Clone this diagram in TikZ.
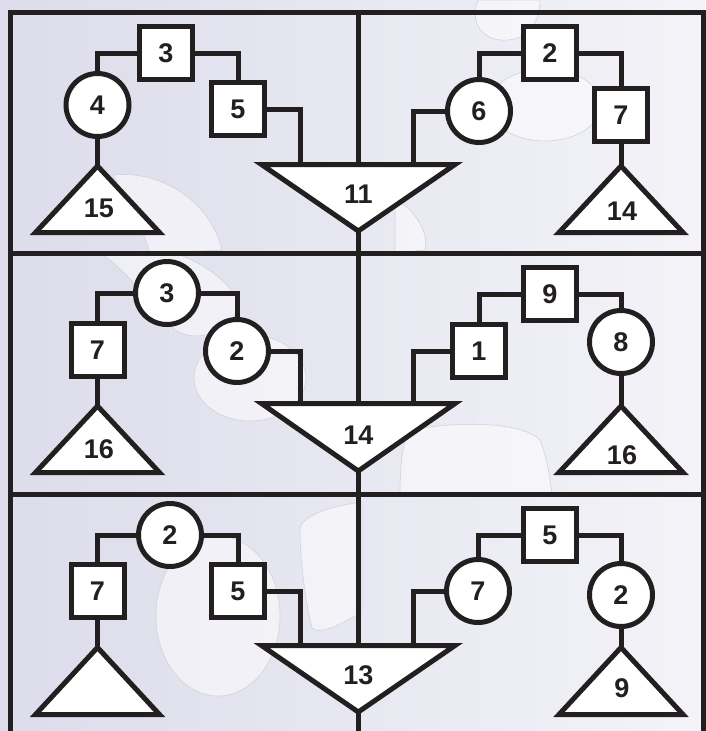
\documentclass[tikz,border=0pt]{standalone}
\usepackage{fontspec}
\setmainfont{Liberation Sans}
\definecolor{ink}{RGB}{35,31,32}
\definecolor{bgL}{RGB}{220,220,235}
\definecolor{bgR}{RGB}{243,243,248}
\definecolor{blobline}{RGB}{210,210,218}
\begin{document}
\begin{tikzpicture}[x=1pt,y=-1pt,
  lbl/.style={font=\bfseries\fontsize{27}{27}\selectfont, text=ink, inner sep=0pt},
  sq/.style={draw=ink, fill=white, line width=5pt, minimum size=53pt, inner sep=0pt, outer sep=0pt, lbl},
  circ/.style={circle, draw=ink, fill=white, line width=5pt, minimum size=63pt, inner sep=0pt, outer sep=0pt, lbl},
  tri/.style={draw=ink, fill=white, line width=5pt, line join=miter},
  wire/.style={draw=ink, line width=5pt},
  blob/.style={fill=white, fill opacity=0.5, draw=blobline, draw opacity=1, line width=0.6pt}]
\useasboundingbox (0,0) rectangle (705,731);
\begin{scope}
\clip (0,0) rectangle (705,731);
% background
\shade[left color=bgL, right color=bgR] (0,0) rectangle (705,731);
% faint background blobs
\path[blob] (218,616) ellipse [x radius=62, y radius=80];
\path[blob] (300,528) .. controls (305,512) and (340,505) .. (362,502) -- (362,612) .. controls (340,625) and (320,635) .. (312,628) .. controls (305,600) and (300,560) .. (300,528) -- cycle;
\path[blob] (250,378) ellipse [x radius=56, y radius=43];
\path[blob] (400,494) .. controls (400,470) and (402,440) .. (410,430) .. controls (450,422) and (520,420) .. (540,440) .. controls (548,460) and (550,480) .. (552,494) -- cycle;
\path[blob] (545,105) ellipse [x radius=56, y radius=36];
\path[blob] (478,0) .. controls (470,20) and (480,38) .. (500,40) .. controls (520,42) and (540,30) .. (540,0) -- cycle;
\path[blob] (113,175) .. controls (160,170) and (210,200) .. (222,250) -- (150,253) .. controls (140,220) and (125,195) .. (113,175) -- cycle;
\path[blob] (100,253) .. controls (120,265) and (140,290) .. (175,330) .. controls (200,345) and (230,330) .. (240,305) .. controls (230,280) and (200,262) .. (175,253) -- cycle;
\path[blob] (395,200) .. controls (410,205) and (430,230) .. (425,250) -- (395,253) -- cycle;
\end{scope}

% frame and dividers
\coordinate (fTL) at (10,12.5);
\coordinate (fTR) at (703,12.5);
\coordinate (fBL) at (10,745);
\coordinate (fBR) at (703,745);
\draw[wire] (fBL) -- (fTL) -- (fTR) -- (fBR);
\coordinate (d1L) at (10,253); \coordinate (d1R) at (703,253);
\coordinate (d2L) at (10,494.5); \coordinate (d2R) at (703,494.5);
\draw[wire] (d1L) -- (d1R);
\draw[wire] (d2L) -- (d2R);
\coordinate (cTop) at (358.3,12.5);
\coordinate (cBot) at (358.3,745);
\draw[wire] (cTop) -- (cBot);

% ===== Panel 1 =====
\draw[tri] (261.5,164.5) -- (455,164.5) -- (358.3,231) -- cycle;
\node[lbl] (T11) at (358.3,194) {11};
\coordinate (p1L) at (300,164.5);
\coordinate (p1R) at (413,164.5);
\draw[tri] (97.5,166) -- (159.5,232.5) -- (35.5,232.5) -- cycle;
\node[lbl] (T15) at (99,208) {15};
\coordinate (a15) at (97.5,166);
\draw[tri] (621,166) -- (683,232.5) -- (559,232.5) -- cycle;
\node[lbl] (T14a) at (622,211) {14};
\coordinate (a14) at (621,166);

\node[sq] (s3) at (166,53) {3};
\node[circ] (c4) at (97.5,105) {4};
\node[sq] (s5) at (238,109) {5};
\node[sq] (s2) at (550,53) {2};
\node[circ] (c6) at (479,111) {6};
\node[sq] (s7) at (621,115) {7};

\draw[wire] (c4) |- (s3);
\draw[wire] (s3) -| (s5);
\draw[wire] (s5) -| (p1L);
\draw[wire] (c4) -- (a15);
\draw[wire] (c6) |- (s2);
\draw[wire] (s2) -| (s7);
\draw[wire] (s7) -- (a14);
\draw[wire] (c6) -| (p1R);

% ===== Panel 2 =====
\draw[tri] (261.5,403.5) -- (455,403.5) -- (358.3,471) -- cycle;
\node[lbl] (T14b) at (358.3,435) {14};
\coordinate (p2L) at (300,403.5);
\coordinate (p2R) at (413,403.5);
\draw[tri] (97.5,406) -- (159.5,472.5) -- (35.5,472.5) -- cycle;
\node[lbl] (T16a) at (99,449) {16};
\coordinate (a16a) at (97.5,406);
\draw[tri] (621,406) -- (683,472.5) -- (559,472.5) -- cycle;
\node[lbl] (T16b) at (622,455) {16};
\coordinate (a16b) at (621,406);

\node[circ] (c3) at (167,293) {3};
\node[sq] (s7b) at (97.5,350) {7};
\node[circ] (c2) at (237,351) {2};
\node[sq] (s9) at (550,294) {9};
\node[sq] (s1) at (479,351) {1};
\node[circ] (c8) at (621,342) {8};

\draw[wire] (c3) -| (s7b);
\draw[wire] (c3) -| (c2);
\draw[wire] (c2) -| (p2L);
\draw[wire] (s7b) -- (a16a);
\draw[wire] (s1) |- (s9);
\draw[wire] (s9) -| (c8);
\draw[wire] (c8) -- (a16b);
\draw[wire] (s1) -| (p2R);

% ===== Panel 3 =====
\draw[tri] (261.5,645.5) -- (455,645.5) -- (358.3,712) -- cycle;
\node[lbl] (T13) at (358.3,675) {13};
\coordinate (p3L) at (300,645.5);
\coordinate (p3R) at (413,645.5);
\draw[tri] (97.5,647.5) -- (159.5,714.5) -- (35.5,714.5) -- cycle;
\coordinate (a3L) at (97.5,647.5);
\draw[tri] (621,647.5) -- (683,714.5) -- (559,714.5) -- cycle;
\node[lbl] (T9) at (622,688) {9};
\coordinate (a9) at (621,647.5);

\node[circ] (c2c) at (170,535) {2};
\node[sq] (s7c) at (97.5,591) {7};
\node[sq] (s5c) at (238,591) {5};
\node[sq] (s5d) at (550,535) {5};
\node[circ] (c7) at (478,591) {7};
\node[circ] (c2d) at (621,595) {2};

\draw[wire] (c2c) -| (s7c);
\draw[wire] (c2c) -| (s5c);
\draw[wire] (s5c) -| (p3L);
\draw[wire] (s7c) -- (a3L);
\draw[wire] (c7) |- (s5d);
\draw[wire] (s5d) -| (c2d);
\draw[wire] (c2d) -- (a9);
\draw[wire] (c7) -| (p3R);
\end{tikzpicture}
\end{document}
